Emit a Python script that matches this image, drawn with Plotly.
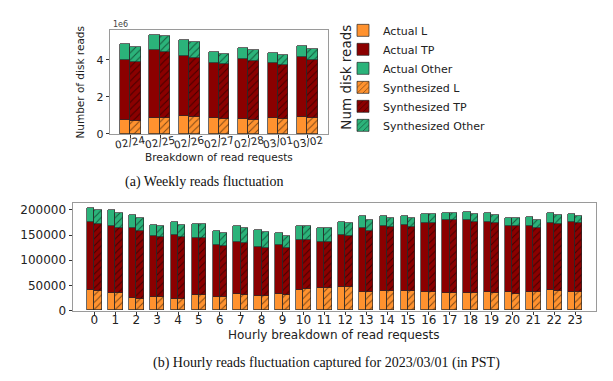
import plotly.graph_objects as go

# ---------------- data ----------------
days = ["02/24", "02/25", "02/26", "02/27", "02/28", "03/01", "03/02"]
wk_act_L = [0.76e6, 0.86e6, 0.93e6, 0.83e6, 0.77e6, 0.83e6, 0.92e6]
wk_act_TP = [3.21e6, 3.64e6, 3.25e6, 2.98e6, 3.25e6, 2.96e6, 3.21e6]
wk_act_O = [0.84e6, 0.84e6, 0.88e6, 0.61e6, 0.58e6, 0.55e6, 0.61e6]
wk_syn_L = [0.70e6, 0.83e6, 0.88e6, 0.81e6, 0.74e6, 0.79e6, 0.83e6]
wk_syn_TP = [3.16e6, 3.56e6, 3.21e6, 2.93e6, 3.18e6, 2.91e6, 3.15e6]
wk_syn_O = [0.79e6, 0.85e6, 0.88e6, 0.56e6, 0.58e6, 0.56e6, 0.60e6]

hours = [str(h) for h in range(24)]
hr_act_L = [39600, 35000, 24600, 26500, 23400, 30400, 27300, 31800, 28500, 31800, 40200, 43500,
            46000, 36300, 39000, 39000, 36300, 34300, 35000, 36300, 35700, 36300, 39600, 36300]
hr_act_TP = [135800, 132600, 138400, 121500, 126600, 113100, 103300, 104600, 96800, 97400, 99400, 92900,
             104000, 127400, 128600, 130600, 137700, 145000, 144300, 139700, 132500, 131900, 133900, 139700]
hr_act_O = [27300, 31200, 26600, 20800, 26000, 28500, 25900, 31800, 34500, 23400, 27200, 27300,
            24600, 22700, 18800, 16800, 17000, 14800, 15600, 17000, 15600, 16200, 18700, 15000]
hr_syn_L = [37600, 34400, 23400, 25900, 22000, 30400, 26000, 31200, 27900, 31200, 42100, 43500,
            45400, 35700, 38300, 37600, 36300, 34300, 34400, 34400, 32400, 36300, 39000, 35700]
hr_syn_TP = [134400, 128600, 134400, 118900, 122800, 113100, 101300, 103300, 94900, 92800, 97500, 92900,
             102600, 122100, 126600, 128100, 137700, 144700, 141600, 139100, 135800, 128000, 131700, 137800]
hr_syn_O = [27400, 30000, 26000, 22000, 24000, 28500, 25300, 29200, 33100, 23400, 27200, 27300,
            24700, 21500, 18300, 16700, 17000, 15100, 15600, 14800, 15600, 14200, 17600, 14200]

series_names = ["Actual L", "Actual TP", "Actual Other",
                "Synthesized L", "Synthesized TP", "Synthesized Other"]
col_L, col_TP, col_O = "#ff922f", "#8b0000", "#2bb37a"

W, H = 613, 381
BW = 0.35


def px(x):
    return x / W


def py(y):
    return 1 - y / H


fig = go.Figure()


def add_bars(xs, vals, name, color, hatched, xa, ya, showleg):
    marker = dict(color=color, line=dict(color="#2a2a2a", width=0.7))
    if hatched:
        marker["pattern"] = dict(shape="/", fgcolor="black", bgcolor=color, size=5, solidity=0.2)
    fig.add_trace(go.Bar(x=xs, y=vals, width=BW, name=name, marker=marker,
                         xaxis=xa, yaxis=ya, showlegend=showleg, legendgroup=name))


xw_a = list(range(len(days)))
xw_s = [i + BW for i in xw_a]
xh_a = list(range(len(hours)))
xh_s = [i + BW for i in xh_a]

wk = [(xw_a, wk_act_L, col_L, False), (xw_a, wk_act_TP, col_TP, False), (xw_a, wk_act_O, col_O, False),
      (xw_s, wk_syn_L, col_L, True), (xw_s, wk_syn_TP, col_TP, True), (xw_s, wk_syn_O, col_O, True)]
hr = [(xh_a, hr_act_L, col_L, False), (xh_a, hr_act_TP, col_TP, False), (xh_a, hr_act_O, col_O, False),
      (xh_s, hr_syn_L, col_L, True), (xh_s, hr_syn_TP, col_TP, True), (xh_s, hr_syn_O, col_O, True)]

for name, (xs, v, c, h) in zip(series_names, wk):
    add_bars(xs, v, name, c, h, "x", "y", True)
for name, (xs, v, c, h) in zip(series_names, hr):
    add_bars(xs, v, name, c, h, "x2", "y2", False)

base_axis = dict(showline=True, mirror=True, linecolor="#9a9a9a", linewidth=1,
                 ticks="outside", ticklen=3.5, tickcolor="#333", showgrid=False, zeroline=False)

fig.update_layout(
    width=W, height=H, margin=dict(l=0, r=0, t=0, b=0),
    paper_bgcolor="white", plot_bgcolor="white", barmode="stack", bargap=0,
    font=dict(family="DejaVu Sans", color="#222"),
    xaxis=dict(domain=[px(102.3), px(320)], anchor="y", range=[-0.51, 6.86],
               tickvals=[i + BW / 2 for i in xw_a], showticklabels=False, **base_axis),
    yaxis=dict(domain=[py(128.3), py(22.7)], anchor="x", range=[0, 5.59e6],
               tickvals=[0, 2e6, 4e6], ticktext=["0", "2", "4"],
               tickfont=dict(family="DejaVu Sans", size=11, color="#222"), **base_axis),
    xaxis2=dict(domain=[px(65), px(588.3)], anchor="y2", range=[-0.85, 24.19],
                tickvals=[i + BW / 2 for i in xh_a], ticktext=hours, ticklabelstandoff=-6,
                tickfont=dict(family="DejaVu Sans", size=12, color="#222"), **base_axis),
    yaxis2=dict(domain=[py(308.3), py(199)], anchor="x2", range=[0, 213000],
                tickvals=[0, 50000, 100000, 150000, 200000], tickformat="d",
                tickfont=dict(family="DejaVu Sans", size=12, color="#222"), **base_axis),
    legend=dict(x=px(335), y=py(8), xanchor="left", yanchor="top", bgcolor="rgba(0,0,0,0)",
                font=dict(family="DejaVu Sans", size=11, color="#222"), tracegroupgap=1,
                itemwidth=30, traceorder="normal"),
)


def note(text, x, y, size, family="DejaVu Sans", angle=0, color="#222", xref="paper", xanchor="center"):
    return dict(text=text, x=x, y=y, xref=xref, yref="paper", showarrow=False, textangle=angle,
                xanchor=xanchor, yanchor="middle", font=dict(family=family, size=size, color=color))


ann = []
for i, d in enumerate(days):
    ann.append(note(d, i + BW / 2, py(137), 10.5, angle=-10, xref="x"))
ann += [
    note("1e6", px(103), py(17), 8, color="#444", xanchor="left"),
    note("Number of disk reads", px(72), py(76), 10.5, angle=-90),
    note("Breakdown of read requests", px(211), py(152), 10.5),
    note("Num disk reads", px(338), py(71), 13.5, angle=-90),
    note("Hourly breakdown of read requests", px(326), py(333), 12),
    note("(a) Weekly reads fluctuation", px(195.5), py(177), 14, family="Liberation Serif", color="#111"),
    note("(b) Hourly reads fluctuation captured for 2023/03/01 (in PST)", px(318), py(361.5), 14,
         family="Liberation Serif", color="#111"),
]
fig.update_layout(annotations=ann)

fig.write_html("out.html")
